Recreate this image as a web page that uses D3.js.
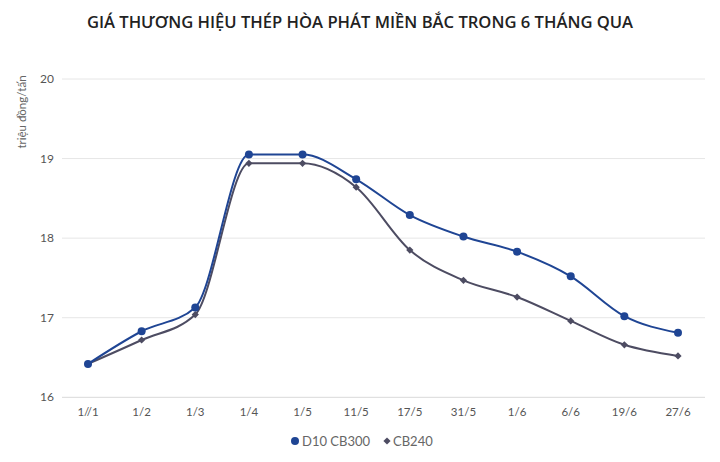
<!DOCTYPE html>
<html><head><meta charset="utf-8">
<script src="https://cdn.jsdelivr.net/npm/d3@7/dist/d3.min.js"></script>
<style>body{margin:0;background:#fff;}svg{display:block;}</style>
</head><body>
<svg id="c" width="720" height="462"></svg>
<script>
const categories = ["1//1","1/2","1/3","1/4","1/5","11/5","17/5","31/5","1/6","6/6","19/6","27/6"];
const d10cb300 = [16.42,16.83,17.13,19.05,19.05,18.74,18.29,18.02,17.83,17.52,17.02,16.81];
const cb240 = [16.42,16.72,17.04,18.94,18.94,18.64,17.85,17.47,17.26,16.96,16.66,16.52];
const yTicks = [16,17,18,19,20];
const seriesNames = ["D10 CB300","CB240"];

const svg = d3.select("#c");
const font = "'Open Sans', sans-serif";
const font2 = "Lato, 'Open Sans', sans-serif";
const x = d3.scalePoint().domain(categories).range([88, 678]);
const y = d3.scaleLinear().domain([16,20]).range([397.3, 79]);

svg.append("text").attr("x",360).attr("y",28).attr("text-anchor","middle")
  .attr("font-family",font).attr("font-weight",600).attr("font-size",16.6)
  .attr("fill","#222").text("GIÁ THƯƠNG HIỆU THÉP HÒA PHÁT MIỀN BẮC TRONG 6 THÁNG QUA");

const g = svg.append("g");
g.selectAll("line.grid").data(yTicks).join("line")
  .attr("x1",62).attr("x2",705).attr("y1",d=>y(d)).attr("y2",d=>y(d))
  .attr("stroke",d=>d===16?"#d9d9d9":"#e6e6e6").attr("stroke-width",1);
g.selectAll("text.yt").data(yTicks).join("text")
  .attr("x",47).attr("y",d=>y(d)+4).attr("text-anchor","middle")
  .attr("font-family",font2).attr("font-size",12).attr("fill","#555").text(d=>d);
g.selectAll("text.xt").data(categories).join("text")
  .attr("x",d=>x(d)).attr("y",416).attr("text-anchor","middle")
  .attr("font-family",font2).attr("font-size",11.5).attr("fill","#555").text(d=>d);
svg.append("text").attr("transform","translate(26,112) rotate(-90)")
  .attr("text-anchor","middle").attr("font-family",font2).attr("font-size",11.5)
  .attr("fill","#666").text("triệu đồng/tấn");

const line = d3.line().x((d,i)=>x(categories[i])).y(d=>y(d)).curve(d3.curveMonotoneX);
const c1 = "#1f4594", c2 = "#4d4c62";
svg.append("path").datum(cb240).attr("d",line).attr("fill","none").attr("stroke",c2).attr("stroke-width",2);
svg.append("path").datum(d10cb300).attr("d",line).attr("fill","none").attr("stroke",c1).attr("stroke-width",2);
const diamond = d3.symbol().type(d3.symbolSquare).size(26);
svg.selectAll("path.m2").data(cb240).join("path")
  .attr("transform",(d,i)=>`translate(${x(categories[i])},${y(d)}) rotate(45)`).attr("d",diamond).attr("fill",c2);
svg.selectAll("circle.m1").data(d10cb300).join("circle")
  .attr("cx",(d,i)=>x(categories[i])).attr("cy",d=>y(d)).attr("r",4).attr("fill",c1);

const lg = svg.append("g");
lg.append("circle").attr("cx",295).attr("cy",441).attr("r",4).attr("fill",c1);
lg.append("text").attr("x",302).attr("y",445.5).attr("font-family",font2).attr("font-size",13).attr("fill","#666").text(seriesNames[0]);
lg.append("path").attr("transform","translate(387,441) rotate(45)").attr("d",d3.symbol().type(d3.symbolSquare).size(26)).attr("fill",c2);
lg.append("text").attr("x",393).attr("y",445.5).attr("font-family",font2).attr("font-size",13).attr("fill","#666").text(seriesNames[1]);
</script>
</body></html>
